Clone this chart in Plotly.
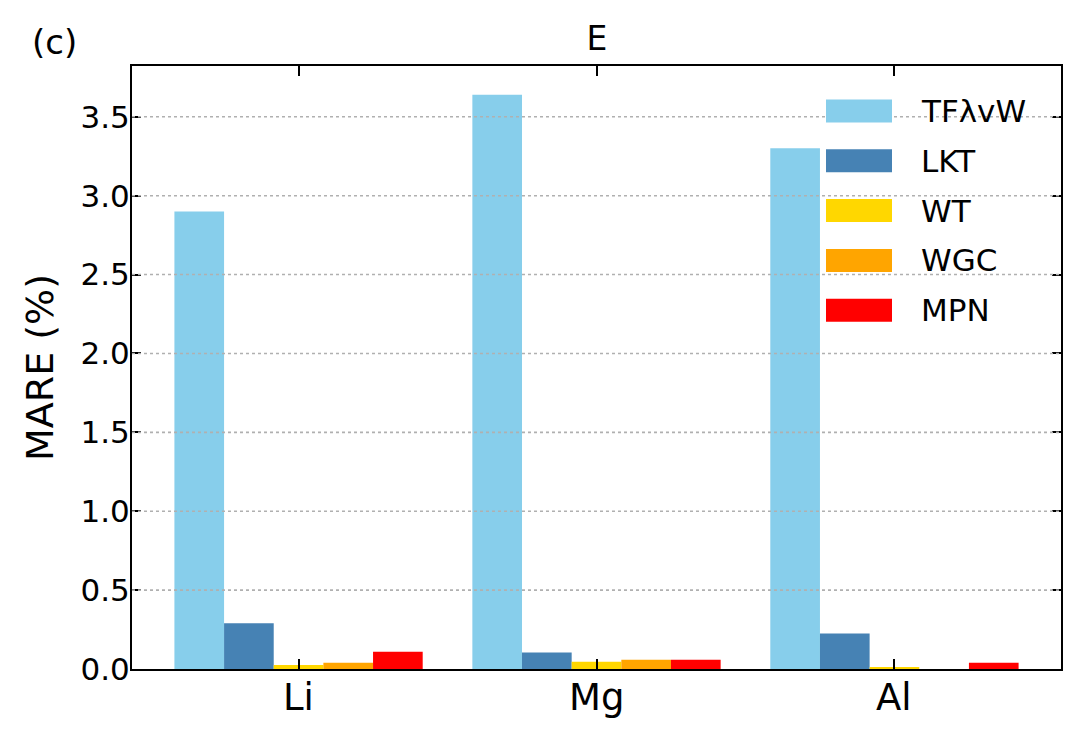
import plotly.graph_objects as go

elements = ["Li", "Mg", "Al"]
methods = ["TFλvW", "LKT", "WT", "WGC", "MPN"]
colors = ["#87CEEB", "#4682B4", "#FFD700", "#FFA500", "#FF0000"]
mare = {
    "TFλvW": [2.90, 3.64, 3.30],
    "LKT": [0.29, 0.105, 0.225],
    "WT": [0.025, 0.046, 0.008],
    "WGC": [0.04, 0.058, 0.0],
    "MPN": [0.11, 0.058, 0.04],
}
y_ticks = [0.0, 0.5, 1.0, 1.5, 2.0, 2.5, 3.0, 3.5]

FONT = "DejaVu Sans"

fig = go.Figure()
for name, color in zip(methods, colors):
    fig.add_trace(go.Bar(
        x=elements,
        y=mare[name],
        name=name,
        marker=dict(color=color, line=dict(width=0)),
        showlegend=False,
    ))

# dotted grid drawn over the bars, like the original
for t in y_ticks[1:]:
    fig.add_shape(type="line", xref="paper", yref="y", x0=0, x1=1, y0=t, y1=t,
                  line=dict(color="#b0b0b0", width=1.6, dash="dot"), layer="above")

# legend drawn by hand (no frame, wide swatches)
leg_x0, leg_x1 = (826 - 132) / 929, (892 - 132) / 929
for i, (name, color) in enumerate(zip(methods, colors)):
    yc = 1 - (111 + 49.8 * i - 66) / 603
    fig.add_shape(type="rect", xref="paper", yref="paper",
                  x0=leg_x0, x1=leg_x1, y0=yc - 11.5 / 603, y1=yc + 11.5 / 603,
                  fillcolor=color, line=dict(width=0), layer="above")
    fig.add_annotation(text=name, xref="paper", yref="paper",
                       x=(919 - 132) / 929, y=yc, xanchor="left", yanchor="middle",
                       showarrow=False, font=dict(family=FONT, size=31, color="black"))

# category labels sit closer to the axis than plotly's tick labels allow
for el in elements:
    fig.add_annotation(text=el, xref="x", yref="paper", x=el, y=-(697 - 669) / 603,
                       xanchor="center", yanchor="middle", showarrow=False,
                       font=dict(family=FONT, size=37, color="black"))

fig.add_annotation(text="(c)", xref="paper", yref="paper", x=(30 - 132) / 929,
                   y=1 + (66 - 42) / 603, xanchor="left", yanchor="middle",
                   showarrow=False, font=dict(family=FONT, size=34, color="black"))

fig.update_layout(
    width=1082, height=738,
    margin=dict(l=132, r=21, t=66, b=69),
    paper_bgcolor="white", plot_bgcolor="white",
    bargap=1 / 6, bargroupgap=0, barmode="group",
    font=dict(family=FONT, color="black"),
    title=dict(text="E", x=(597) / 1082, xanchor="center", y=1 - 38 / 738,
               yanchor="middle", font=dict(family=FONT, size=33, color="black")),
)
fig.update_xaxes(
    type="category", range=[-0.559, 2.559],
    showline=True, linecolor="black", linewidth=2, mirror="ticks",
    ticks="inside", ticklen=10, tickwidth=2, tickcolor="black",
    showticklabels=False,
    showgrid=False, zeroline=False,
)
fig.update_yaxes(
    range=[0, 3.822],
    tickvals=y_ticks, ticktext=[f"{t:.1f}" for t in y_ticks],
    showline=True, linecolor="black", linewidth=2, mirror="ticks",
    ticks="inside", ticklen=9, tickwidth=2, tickcolor="black",
    tickfont=dict(family=FONT, size=31, color="black"),
    ticklabelstandoff=-6,
    showgrid=False, zeroline=False,
    title=dict(text="MARE (%)", font=dict(family=FONT, size=38, color="black")),
)

fig.write_html("out.html", config={"displayModeBar": False},
               post_script="document.body.style.margin='0';")
